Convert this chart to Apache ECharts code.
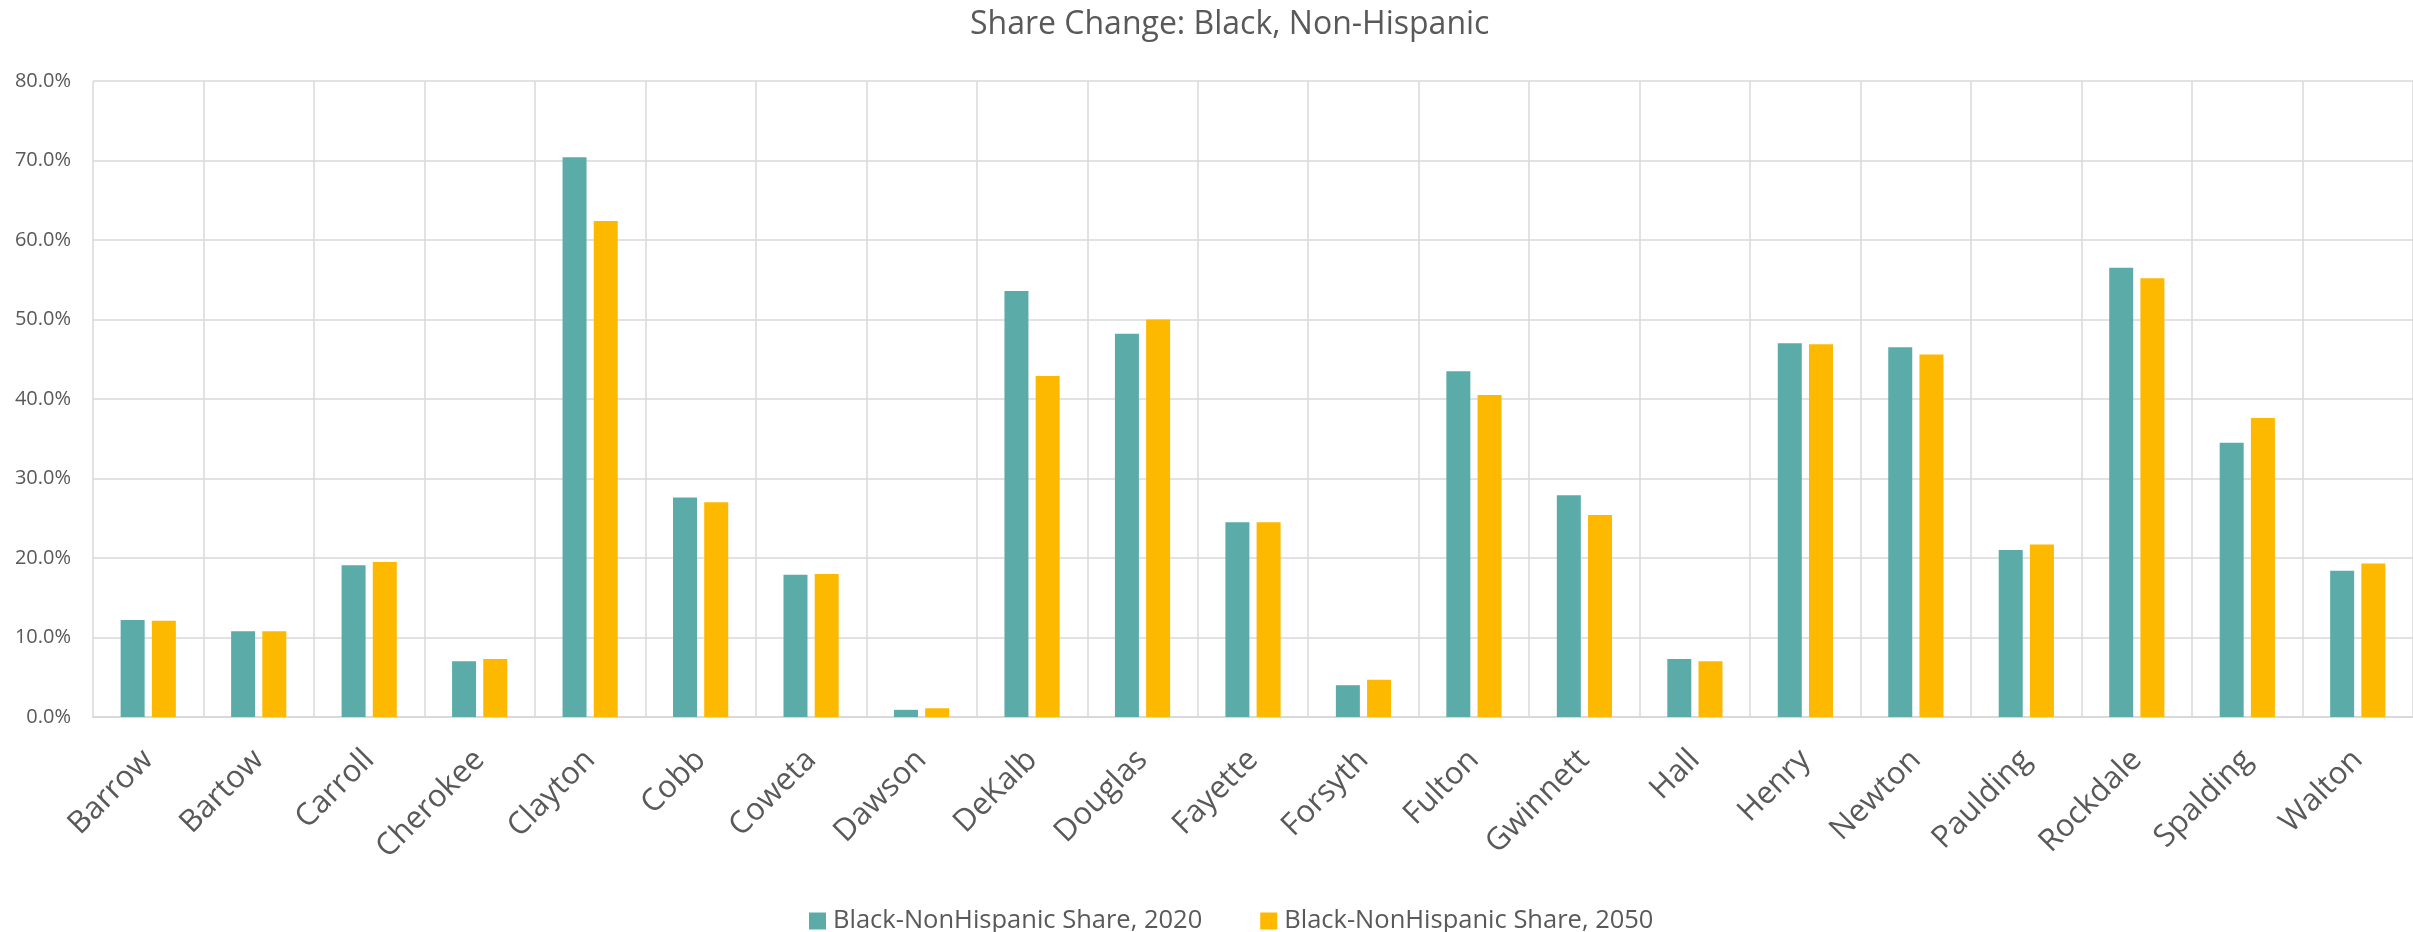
<!DOCTYPE html>
<html>
<head>
<meta charset="utf-8">
<title>Share Change: Black, Non-Hispanic</title>
<script src="https://cdn.jsdelivr.net/npm/echarts@6/dist/echarts.min.js"></script>
<style>
  html, body { margin: 0; padding: 0; background: #fff; }
  #chart { width: 2413px; height: 932px; }
</style>
</head>
<body>
<div id="chart"></div>
<script>
// counties (x axis)
const counties = ["Barrow", "Bartow", "Carroll", "Cherokee", "Clayton", "Cobb", "Coweta",
  "Dawson", "DeKalb", "Douglas", "Fayette", "Forsyth", "Fulton", "Gwinnett", "Hall",
  "Henry", "Newton", "Paulding", "Rockdale", "Spalding", "Walton"];

// share in percent
const share2020 = [12.2, 10.8, 19.1, 7.0, 70.4, 27.6, 17.9, 0.9, 53.6, 48.2, 24.5,
  4.0, 43.5, 27.9, 7.3, 47.0, 46.5, 21.0, 56.5, 34.5, 18.4];
const share2050 = [12.1, 10.8, 19.5, 7.3, 62.4, 27.0, 18.0, 1.1, 42.9, 50.0, 24.5,
  4.7, 40.5, 25.4, 7.0, 46.9, 45.6, 21.7, 55.2, 37.6, 19.3];

const seriesNames = ["Black-NonHispanic Share, 2020", "Black-NonHispanic Share, 2050"];
const yTicks = [0, 10, 20, 30, 40, 50, 60, 70, 80];

const font = "'Open Sans', 'Noto Sans', sans-serif";
const grey = "#595959";

const chart = echarts.init(document.getElementById("chart"));
chart.setOption({
  animation: false,
  color: ["#5BACA8", "#FDB800"],
  title: {
    text: "Share Change: Black, Non-Hispanic",
    left: 965,
    top: 4,
    textStyle: { fontFamily: font, fontSize: 32, fontWeight: "normal", color: grey }
  },
  legend: {
    left: 804,
    top: 903,
    itemWidth: 17,
    itemHeight: 17,
    itemGap: 58,
    icon: "rect",
    textStyle: { fontFamily: font, fontSize: 25.5, color: grey, padding: [0, 0, 0, 2] },
    data: seriesNames
  },
  grid: { left: 93, right: -12, top: 81, bottom: 215 },
  xAxis: {
    type: "category",
    data: counties,
    axisLine: { lineStyle: { color: "#d9d9d9", width: 2 } },
    axisTick: { show: false },
    splitLine: { show: true, lineStyle: { color: "#d9d9d9", width: 1.5 } },
    axisLabel: {
      interval: 0,
      rotate: 45,
      margin: 38,
      fontFamily: font,
      fontSize: 31,
      color: grey
    }
  },
  yAxis: {
    type: "value",
    min: yTicks[0],
    max: yTicks[yTicks.length - 1],
    interval: 10,
    axisLine: { show: false },
    axisTick: { show: false },
    splitLine: { lineStyle: { color: "#d9d9d9", width: 1.5 } },
    axisLabel: {
      margin: 22,
      fontFamily: font,
      fontSize: 20,
      color: grey,
      formatter: (v) => v.toFixed(1) + "%"
    }
  },
  series: [
    { name: seriesNames[0], type: "bar", data: share2020, barWidth: 24, barGap: "30%" },
    { name: seriesNames[1], type: "bar", data: share2050, barWidth: 24, barGap: "30%" }
  ]
});
</script>
</body>
</html>
